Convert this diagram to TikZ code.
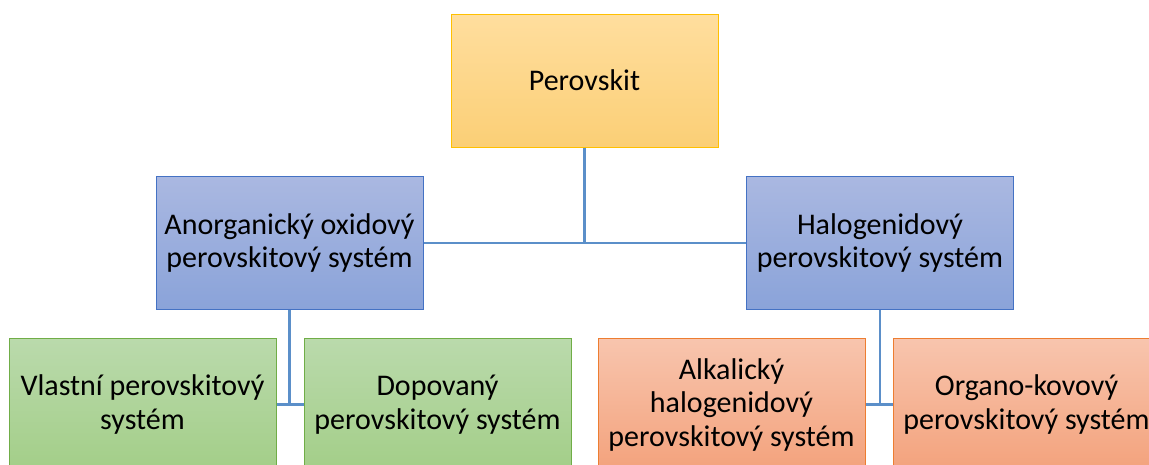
\documentclass[tikz,border=0pt]{standalone}
\usepackage{fontspec}
\setmainfont{Carlito}
\usetikzlibrary{positioning}

\definecolor{yellowTop}{HTML}{FFDE9E}
\definecolor{yellowBot}{HTML}{FBCF76}
\definecolor{yellowLine}{HTML}{FFC000}
\definecolor{blueTop}{HTML}{AAB8E1}
\definecolor{blueBot}{HTML}{8AA3D9}
\definecolor{blueLine}{HTML}{4472C4}
\definecolor{greenTop}{HTML}{BADAAC}
\definecolor{greenBot}{HTML}{A3CE88}
\definecolor{greenLine}{HTML}{70AD47}
\definecolor{orangeTop}{HTML}{F8C5AE}
\definecolor{orangeBot}{HTML}{F3A27C}
\definecolor{orangeLine}{HTML}{ED7D31}
\definecolor{linkBlue}{HTML}{5B8FC9}

\begin{document}
\begin{tikzpicture}[x=1pt,y=-1pt,
  box/.style={draw, line width=1pt, minimum width=267pt, minimum height=133pt,
    inner sep=0pt, align=center, font=\fontsize{30}{33.5}\selectfont},
  topbox/.style={box, draw=yellowLine, top color=yellowTop, bottom color=yellowBot},
  midbox/.style={box, draw=blueLine, top color=blueTop, bottom color=blueBot},
  leafgreen/.style={box, draw=greenLine, top color=greenTop, bottom color=greenBot},
  leaforange/.style={box, draw=orangeLine, top color=orangeTop, bottom color=orangeBot},
  link/.style={draw=linkBlue, line width=2.5pt}]

\useasboundingbox (0,0) rectangle (1149,464);
\clip (0,0) rectangle (1149,464);

% root
\node[topbox] (perovskit) at (584.5,80.5) {Perovskit};

% second level
\node[midbox] (anorg) at (289.5,243) {Anorganický oxidový\\perovskitový systém};
\node[midbox] (halog) at (880,243) {Halogenidový\\perovskitový systém};

% leaves
\node[leafgreen] (vlastni) at (142.5,404.5) {Vlastní perovskitový\\systém};
\node[leafgreen] (dopovany) at (437.5,404.5) {Dopovaný\\perovskitový systém};
\node[leaforange] (alkal) at (731.5,404.5) {Alkalický\\halogenidový\\perovskitový systém};
\node[leaforange] (organo) at (1026.5,404.5) {Organo-kovový\\perovskitový systém};

% connectors
\draw[link] (anorg.east) -- (halog.west);
\draw[link] (perovskit.south) -- (perovskit.south |- anorg.east);

\draw[link] (vlastni.east) -- (dopovany.west);
\draw[link] (anorg.south) -- (anorg.south |- vlastni.east);

\draw[link] (alkal.east) -- (organo.west);
\draw[link] (halog.south) -- (halog.south |- alkal.east);
\end{tikzpicture}
\end{document}
